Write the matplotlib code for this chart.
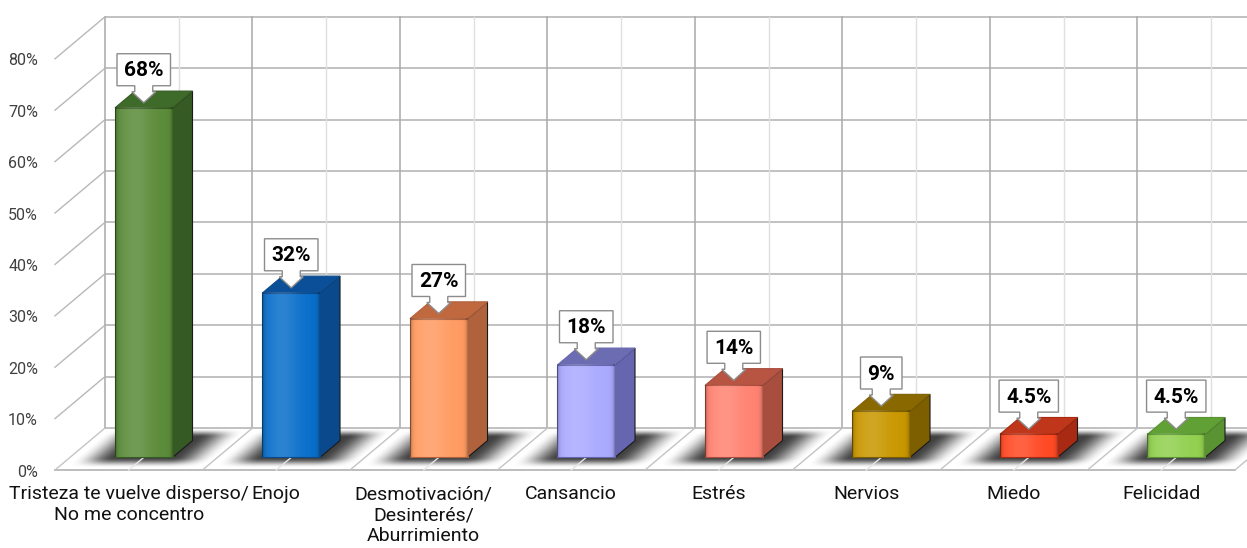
import numpy as np
import matplotlib
matplotlib.use("Agg")
import matplotlib.pyplot as plt
import matplotlib.transforms as mtransforms
from matplotlib.patches import Polygon

# datos
categorias = ['Tristeza te vuelve disperso/\nNo me concentro', 'Enojo',
              'Desmotivación/\nDesinterés/\nAburrimiento', 'Cansancio',
              'Estrés', 'Nervios', 'Miedo', 'Felicidad']
porcentajes = [68, 32, 27, 18, 14, 9, 4.5, 4.5]
etiquetas = ['68%', '32%', '27%', '18%', '14%', '9%', '4.5%', '4.5%']
marcas_y = [0, 10, 20, 30, 40, 50, 60, 70, 80]
textos_y = ['0%', '10%', '20%', '30%', '40%', '50%', '60%', '70%', '80%']

color_frente = ['#5b8c3a', '#0a6fca', '#ff9b62', '#aaaaff',
                '#ff8372', '#c99700', '#ff4a25', '#92d050']
color_lado = ['#365a23', '#0a4a8c', '#b0623d', '#6666b0',
              '#a84e3e', '#7d5f00', '#a82a12', '#5a9432']
color_tapa = ['#3e6b2a', '#0b4f98', '#c0683e', '#6c6cb2',
              '#b85442', '#8a6800', '#c0361a', '#61a035']

# geometria de la vista (pixeles)
W, H = 1247, 548
X0, PX_CAT = 55, 147.5
Y0, PX_PCT = 470, 5.14
PROF_X = 50 / PX_CAT
PROF_Y = 42 / PX_PCT
ANCHO = 0.39
FONDO = 0.40
V_FRENTE = 0.30

FUENTE = ['Roboto', 'DejaVu Sans']


def rampa(t, a, b):
    s = np.clip((t - a) / (b - a), 0, 1)
    return s * s * (3 - 2 * s)


fig = plt.figure(figsize=(W / 100, H / 100), dpi=100, facecolor='white')
ax = fig.add_axes([0, 0, 1, 1])
ax.axis('off')
ax.set_xlim(-X0 / PX_CAT, (W - X0) / PX_CAT)
ax.set_ylim((Y0 - H) / PX_PCT, Y0 / PX_PCT)
n = len(categorias)

# pared del fondo
for p in marcas_y:
    ax.plot([PROF_X, n + PROF_X], [p + PROF_Y] * 2, color='#b0b0b0', lw=1.1, zorder=1)
for i in range(n + 1):
    ax.plot([i + PROF_X] * 2, [PROF_Y, 80 + PROF_Y], color='#a8a8a8', lw=1.1, zorder=1)
for i in range(n):
    ax.plot([i + 0.5 + PROF_X] * 2, [PROF_Y, 80 + PROF_Y], color='#e0e0e0', lw=1.0, zorder=1)

# pared lateral (de canto)
for p in marcas_y[1:]:
    ax.plot([0, PROF_X], [p, p + PROF_Y], color='#b8b8b8', lw=1.0, zorder=1)

# piso
ax.plot([0, n], [0, 0], color='#bdbdbd', lw=1.4, zorder=1)
for i in range(n + 1):
    ax.plot([i, i + PROF_X], [0, PROF_Y], color='#c4c4c4', lw=1.0, zorder=1)

# sombras sobre el piso
xs = np.linspace(-0.2, n + 0.6, 1800)
ys = np.linspace(-0.5, PROF_Y + 0.5, 140)
X, Y = np.meshgrid(xs, ys)
V = Y / PROF_Y
U = X - V * PROF_X
alfa = np.zeros_like(X)
for i in range(n):
    u = U - i
    fu = rampa(u, 0.04, 0.32) * (1 - rampa(u, 0.70, 0.99))
    fv = rampa(V, 0.06, 0.30) * (1 - rampa(V, 0.78, 0.98))
    alfa = np.maximum(alfa, 0.85 * fu * fv)
sombra = np.zeros(X.shape + (4,))
sombra[..., :3] = 0.12
sombra[..., 3] = alfa
ax.imshow(sombra, extent=(xs[0], xs[-1], ys[0], ys[-1]), origin='lower',
          aspect='auto', interpolation='bilinear', zorder=2)

for i in range(n):
    ax.plot([i + 0.5, i + 0.5 + PROF_X], [0, PROF_Y], color='#e6e6e6', lw=1.0, zorder=2.5)

# barras
ddx = FONDO * PROF_X
ddy = FONDO * PROF_Y
brillo = np.linspace(0, 1, 80)
capa_luz = np.zeros((1, 80, 4))
capa_luz[..., :3] = 1.0
capa_luz[0, :, 3] = 0.14 * np.exp(-((brillo - 0.35) / 0.28) ** 2)
capa_borde = np.zeros((1, 80, 4))
capa_borde[0, :, 3] = 0.30 * (np.exp(-brillo / 0.03) + np.exp(-(1 - brillo) / 0.03))

renderer = fig.canvas.get_renderer()

for i, val in enumerate(porcentajes):
    x_l = i + 0.5 - ANCHO / 2 + V_FRENTE * PROF_X
    x_r = x_l + ANCHO
    y_b = V_FRENTE * PROF_Y
    y_t = y_b + val
    frente = [(x_l, y_b), (x_r, y_b), (x_r, y_t), (x_l, y_t)]
    lado = [(x_r, y_b), (x_r + ddx, y_b + ddy), (x_r + ddx, y_t + ddy), (x_r, y_t)]
    tapa = [(x_l, y_t), (x_r, y_t), (x_r + ddx, y_t + ddy), (x_l + ddx, y_t + ddy)]
    borde = color_lado[i]
    ax.add_patch(Polygon(lado, closed=True, fc=color_lado[i], ec='#1a1a1a', lw=0.8, zorder=3))
    ax.add_patch(Polygon(tapa, closed=True, fc=color_tapa[i], ec=borde, lw=0.8, zorder=3))
    ax.add_patch(Polygon(frente, closed=True, fc=color_frente[i], ec=borde, lw=0.8, zorder=3))
    ax.imshow(capa_luz, extent=(x_l, x_r, y_b, y_t), aspect='auto', zorder=3.1)
    ax.imshow(capa_borde, extent=(x_l, x_r, y_b, y_t), aspect='auto', zorder=3.1)

    # etiqueta tipo globo con flecha
    xp = (x_l + x_r) / 2
    yp = y_t + 1.0
    txt = ax.annotate(etiquetas[i], xy=(xp, yp), xytext=(0, 32), textcoords='offset pixels',
                      ha='center', va='center', fontsize=15, fontweight='bold',
                      family=FUENTE, color='black', zorder=6)
    hw = txt.get_window_extent(renderer).width / 2 + 7
    globo = [(-hw, 17), (-hw, 49), (hw, 49), (hw, 17), (9, 17), (9, 11), (12, 11),
             (0, 0), (-12, 11), (-9, 11), (-9, 17)]
    tr = mtransforms.ScaledTranslation(xp, yp, ax.transData)
    ax.add_patch(Polygon(globo, closed=True, fc='white', ec='#8c8c8c', lw=1.0,
                         transform=tr, zorder=5))

# rotulos del eje y
for p, t in zip(marcas_y, textos_y):
    ax.text(-0.115, p - 0.4, t, ha='right', va='center', fontsize=11.5,
            family=FUENTE, color='#404040')

# rotulos de categorias
for i, c in enumerate(categorias):
    ax.text(i + 0.5, -3.0, c, ha='center', va='top', fontsize=14,
            family=FUENTE, color='#111111', linespacing=1.2)

ax.set_xlim(-X0 / PX_CAT, (W - X0) / PX_CAT)
ax.set_ylim((Y0 - H) / PX_PCT, Y0 / PX_PCT)

fig.savefig('out.png', dpi=100, facecolor='white')
